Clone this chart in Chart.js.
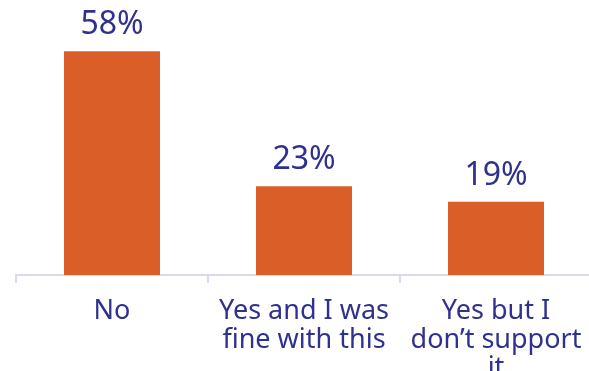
<!DOCTYPE html>
<html>
<head>
<meta charset="utf-8">
<script src="https://cdn.jsdelivr.net/npm/chart.js@4"></script>
<style>
  html, body { margin: 0; padding: 0; background: #fff; overflow: hidden; }
  #wrap { position: absolute; left: 0; top: 0; width: 592px; height: 400px; }
</style>
</head>
<body>
<div id="wrap"><canvas id="answers" width="592" height="400"></canvas></div>
<script>
// --- DATA ---
const categories = [
  ['No'],
  ['Yes and I was', 'fine with this'],
  ['Yes but I', 'don\u2019t support', 'it']
];
const shares = [58, 23, 19];

const BAR = '#d95e28';
const INK = '#2f3190';
const AXIS = '#d9d9f0';
const FONT = '"Noto Sans", sans-serif';

// value labels above each bar
const valueLabels = {
  id: 'valueLabels',
  afterDatasetsDraw(chart){
    const {ctx} = chart;
    const meta = chart.getDatasetMeta(0);
    ctx.save();
    ctx.font = '32px ' + FONT;
    ctx.fillStyle = INK;
    ctx.textAlign = 'center';
    ctx.textBaseline = 'alphabetic';
    meta.data.forEach((bar, i)=>{
      ctx.fillText(shares[i] + '%', bar.x, bar.y - 17);
    });
    ctx.restore();
  }
};

new Chart(document.getElementById('answers'), {
  type: 'bar',
  data: {
    labels: categories,
    datasets: [{
      data: shares,
      backgroundColor: BAR,
      borderWidth: 0,
      categoryPercentage: 1,
      barPercentage: 0.5
    }]
  },
  options: {
    responsive: false,
    animation: false,
    layout: { padding: { top: 5, left: 16, right: 0, bottom: 0 } },
    plugins: { legend: { display: false }, tooltip: { enabled: false } },
    scales: {
      y: { display: false, min: 0, max: 70 },
      x: {
        // fixed axis band, and no extra side padding for wide labels
        afterFit(scale){
          scale.height = 125;
          scale.paddingLeft = 0;
          scale.paddingRight = 0;
        },
        border: { display: true, color: AXIS, width: 2 },
        grid: { offset: true, drawOnChartArea: false, drawTicks: true, tickLength: 8, color: AXIS, lineWidth: 2 },
        ticks: { color: INK, font: { family: FONT, size: 27, lineHeight: 1.063 }, padding: 14, maxRotation: 0, autoSkip: false }
      }
    }
  },
  plugins: [valueLabels]
});
</script>
</body>
</html>
